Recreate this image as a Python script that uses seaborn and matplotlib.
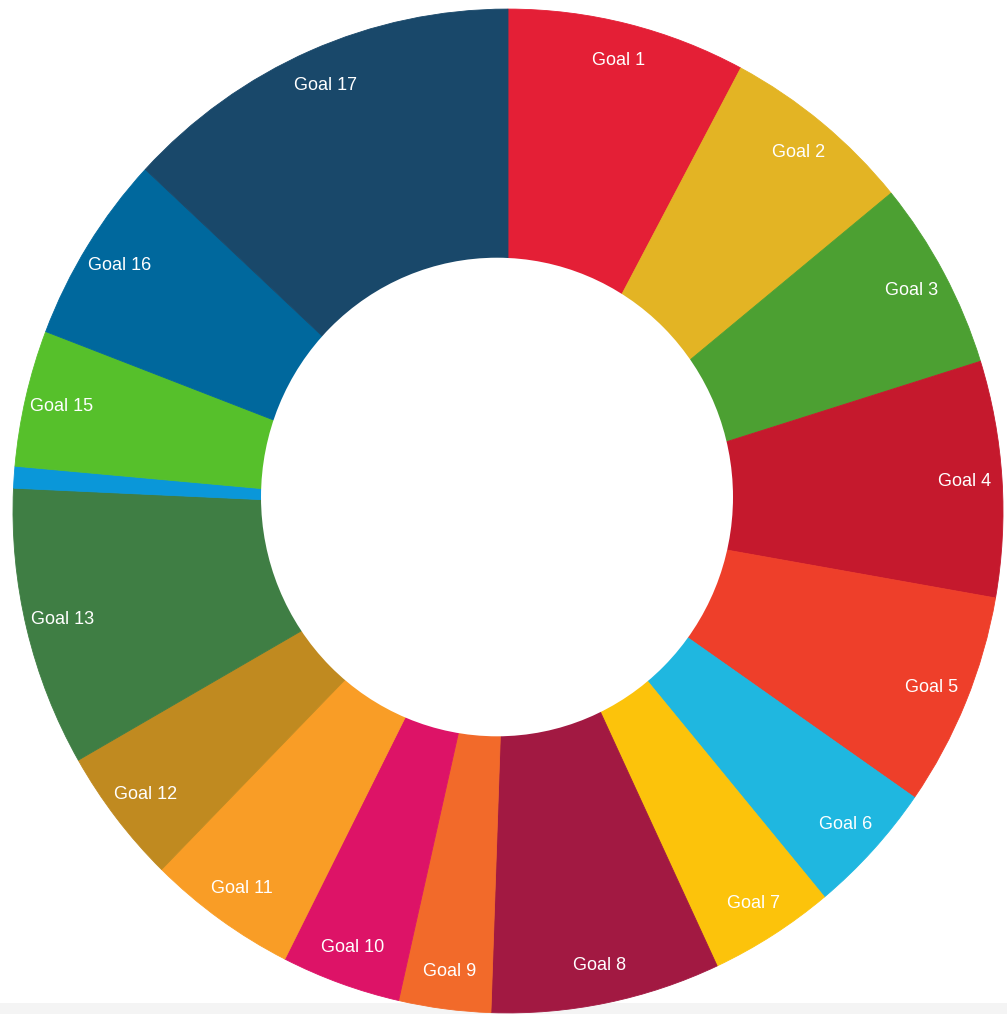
import matplotlib
matplotlib.use("Agg")
import matplotlib.pyplot as plt
from matplotlib.patches import Rectangle, Circle
import seaborn as sns

# Données : part de chaque objectif (en %)
goals = ["Goal 1", "Goal 2", "Goal 3", "Goal 4", "Goal 5", "Goal 6", "Goal 7",
         "Goal 8", "Goal 9", "Goal 10", "Goal 11", "Goal 12", "Goal 13",
         "Goal 14", "Goal 15", "Goal 16", "Goal 17"]
shares = [7.8, 6.3, 6.1, 7.6, 6.9, 4.3, 4.1, 7.5, 3.0, 3.9, 4.9, 4.4, 9.0,
          0.7, 4.4, 6.1, 13.1]
sdg_colors = ["#E41F36", "#E3B424", "#4CA032", "#C5192D", "#EE3F2A", "#1FB7E0",
              "#FCC30B", "#A21942", "#F26A2A", "#DD1367", "#F99D26", "#C08A20",
              "#3F7E44", "#0A97D9", "#56C02B", "#00689D", "#19486A"]

sns.set_theme(style="white")
plt.rcParams['font.family'] = ['Liberation Sans', 'DejaVu Sans']

fig = plt.figure(figsize=(10.07, 10.14), dpi=100)
fig.patch.set_facecolor("white")
# bande grise en bas de la capture (sous le donut)
fig.patches.append(Rectangle((0, 0), 1, 11 / 1014, transform=fig.transFigure,
                             facecolor="#F4F4F4", edgecolor="none", zorder=-1))

ax = fig.add_axes([0, 0, 1, 1])
ax.patch.set_visible(False)

# pas d'étiquette pour les parts trop petites
shown = [g if s > 1 else "" for g, s in zip(goals, shares)]

wedges, texts = ax.pie(shares, labels=shown, colors=sns.color_palette(sdg_colors),
                       startangle=90, counterclock=False, radius=0.99,
                       labeldistance=0.925,
                       textprops=dict(color="white", fontsize=13, ha="center", va="center"),
                       wedgeprops=dict(linewidth=0.6))
for w in wedges:
    w.set_edgecolor(w.get_facecolor())

# trou central du donut
ax.add_patch(Circle((-0.022, 0.0276), 0.472, facecolor="white", edgecolor="none", zorder=3))

# l'image d'origine est légèrement étirée verticalement
ax.set_xlim(-508 / 500, (1007 - 508) / 500)
ax.set_ylim(-(1014 - 511) / 507, 511 / 507)
ax.set_aspect("auto")
ax.axis("off")

fig.savefig("out.png", dpi=100, facecolor="white")
